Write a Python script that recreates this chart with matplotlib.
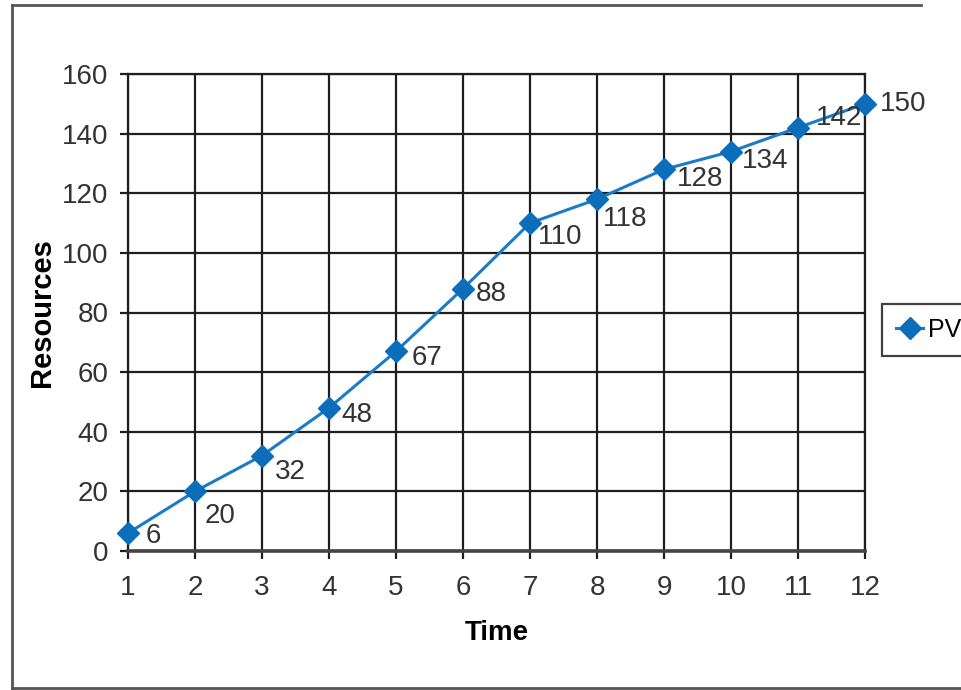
import matplotlib.pyplot as plt
from matplotlib.lines import Line2D

# data
time = [1, 2, 3, 4, 5, 6, 7, 8, 9, 10, 11, 12]
pv = [6, 20, 32, 48, 67, 88, 110, 118, 128, 134, 142, 150]
y_ticks = [0, 20, 40, 60, 80, 100, 120, 140, 160]

# label offsets (points) relative to each marker
label_dx = [13, 7, 9, 9, 11, 9, 6, 4, 9, 8, 13, 11]
label_dy = [-2, -18, -12, -5, -5, -4, -10, -14, -7, -7, 7, 0]

W, H = 961, 690
FONT = ['Liberation Sans Narrow', 'Liberation Sans', 'DejaVu Sans']
BLUE = '#1a7cc6'
MARK = '#0c6dbb'
GRID = '#1e1e1e'

plt.rcParams['font.family'] = FONT

fig = plt.figure(figsize=(W / 100, H / 100), dpi=100)
fig.patch.set_facecolor('white')
ax = fig.add_axes([128 / W, 1 - 551 / H, (865 - 128) / W, (551 - 74) / H])

line, = ax.plot(time, pv, color=BLUE, lw=2.2, marker='D', markersize=11,
                markerfacecolor=MARK, markeredgecolor=MARK,
                label='PV', zorder=3, clip_on=False)

for x, v, dx, dy in zip(time, pv, label_dx, label_dy):
    ax.annotate(str(v), (x, v), xytext=(dx, dy), textcoords='offset points',
                ha='left', va='center', fontsize=20, color='#333333', zorder=4)

ax.set_xlim(1, 12)
ax.set_ylim(0, 160)
ax.set_xticks(time)
ax.set_yticks(y_ticks)
ax.grid(True, color=GRID, lw=1.6)
ax.set_axisbelow(True)
for s in ['left', 'right', 'top']:
    ax.spines[s].set_color(GRID)
    ax.spines[s].set_linewidth(1.6)
ax.spines['bottom'].set_color('#444444')
ax.spines['bottom'].set_linewidth(2.6)
ax.tick_params(axis='both', length=6, width=1.6, color=GRID,
               labelsize=20, labelcolor='#333333')
ax.tick_params(axis='x', pad=11)
ax.tick_params(axis='y', pad=8)

ax.set_xlabel('Time', fontsize=20, fontweight='bold', labelpad=14)
ax.set_ylabel('Resources', fontsize=21, fontweight='bold',
              family=['Liberation Sans', 'DejaVu Sans'], labelpad=4)

leg = fig.legend(handles=[line], loc='center left',
                 bbox_to_anchor=(882 / W, 1 - 330 / H), fontsize=18,
                 frameon=True, fancybox=False, handlelength=1.1,
                 handletextpad=0.2, borderpad=0.55, borderaxespad=0)
leg.get_frame().set_edgecolor('#111111')
leg.get_frame().set_linewidth(1.6)

# outer frame of the picture
frame_kw = dict(color='#555555', lw=2, transform=fig.transFigure)
fig.add_artist(Line2D([12 / W, 921 / W], [1 - 5 / H, 1 - 5 / H], **frame_kw))
fig.add_artist(Line2D([12 / W, 12 / W], [1 - 5 / H, 1 - 688 / H], **frame_kw))
fig.add_artist(Line2D([12 / W, 1], [1 - 688 / H, 1 - 688 / H], **frame_kw))

fig.savefig('out.png', dpi=100)
